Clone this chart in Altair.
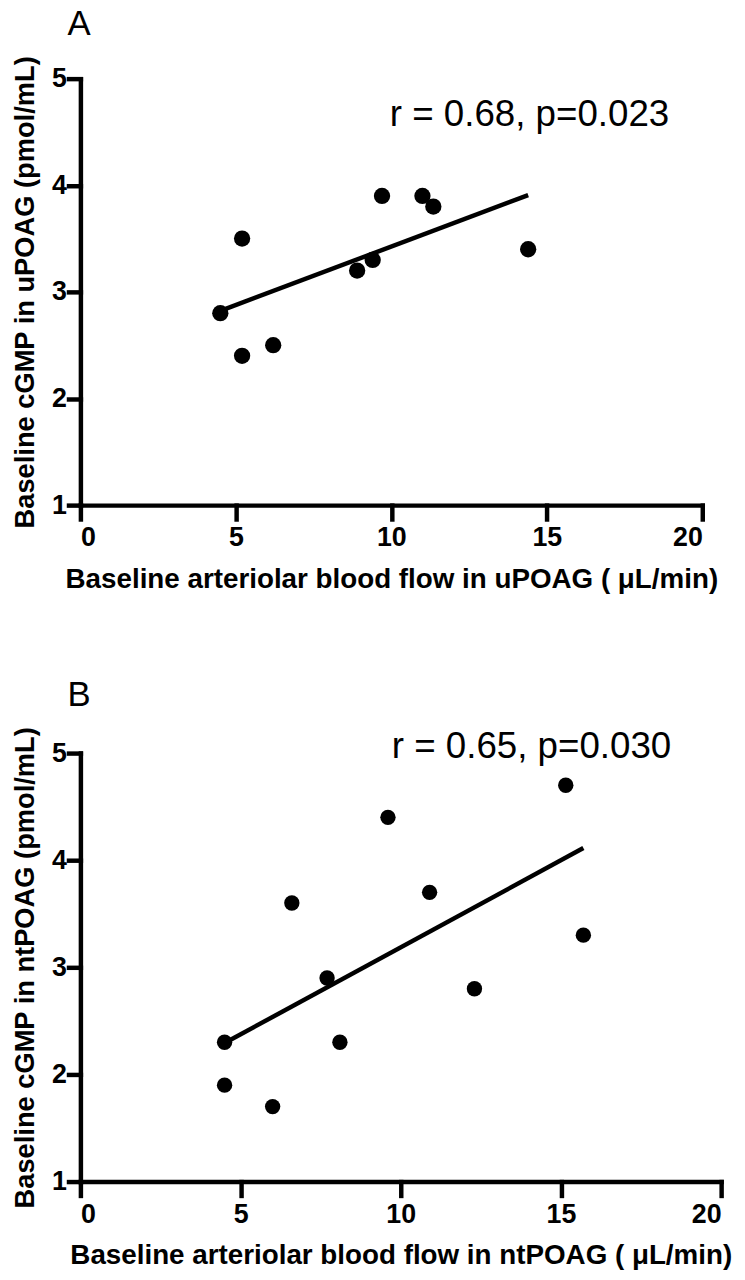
import altair as alt
import pandas as pd

# ---- data ----
a_flow = [4.5, 5.2, 5.2, 6.2, 8.9, 9.4, 9.7, 11.0, 11.35, 14.4]
a_cgmp = [2.8, 3.5, 2.4, 2.5, 3.2, 3.3, 3.9, 3.9, 3.8, 3.4]

b_flow = [4.5, 4.5, 6.0, 6.6, 7.7, 8.1, 9.6, 10.9, 12.3, 15.15, 15.7]
b_cgmp = [2.3, 1.9, 1.7, 3.6, 2.9, 2.3, 4.4, 3.7, 2.8, 4.7, 3.3]

x_ticks = [0, 5, 10, 15, 20]
y_ticks = [1, 2, 3, 4, 5]

panel_letters = ["A", "B"]
stats_text = ["r = 0.68, p=0.023", "r = 0.65, p=0.030"]
x_titles = [
    "Baseline arteriolar blood flow in uPOAG ( \u03bcL/min)",
    "Baseline arteriolar blood flow in ntPOAG ( \u03bcL/min)",
]
y_titles = [
    "Baseline cGMP in uPOAG (pmol/mL)",
    "Baseline cGMP in ntPOAG (pmol/mL)",
]

FONT = "Liberation Sans"


def panel(letter, flow, cgmp, stat, stat_x, stat_y, xt, yt, w, h, size):
    df = pd.DataFrame({"flow": flow, "cgmp": cgmp})
    xs = alt.Scale(domain=[0, 20], nice=False, zero=False)
    ys = alt.Scale(domain=[1, 5], nice=False, zero=False)
    xa = alt.Axis(values=x_ticks, title=xt, tickSize=14, labelPadding=6,
                  titlePadding=15, format="d")
    ya = alt.Axis(values=y_ticks, title=yt, tickSize=12, labelPadding=2,
                  titlePadding=12, format="d", titleFontSize=27.5)
    base = alt.Chart(df)
    pts = base.mark_circle(size=size, color="black", opacity=1).encode(
        x=alt.X("flow:Q", scale=xs, axis=xa),
        y=alt.Y("cgmp:Q", scale=ys, axis=ya),
    )
    line = base.transform_regression("flow", "cgmp").mark_line(
        color="black", strokeWidth=4.5
    ).encode(x=alt.X("flow:Q", scale=xs), y=alt.Y("cgmp:Q", scale=ys))
    tdf = pd.DataFrame({"flow": [stat_x], "cgmp": [stat_y], "t": [stat]})
    txt = alt.Chart(tdf).mark_text(
        align="left", baseline="alphabetic", fontSize=37, font=FONT,
        color="black", clip=False
    ).encode(x=alt.X("flow:Q", scale=xs), y=alt.Y("cgmp:Q", scale=ys), text="t:N")
    return alt.layer(line, pts, txt).properties(
        width=w, height=h,
        title=alt.Title(letter, anchor="start", fontSize=35, fontWeight="normal",
                        font=FONT, color="black", dx=-13, offset=14,
                        baseline="top", frame="group"),
    )


pa = panel(panel_letters[0], a_flow, a_cgmp, stats_text[0], 9.95, 4.56,
           x_titles[0], y_titles[0], 627, 430, 270)
pb = panel(panel_letters[1], b_flow, b_cgmp, stats_text[1], 9.72, 4.95,
           x_titles[1], y_titles[1], 646, 432, 240)

chart = alt.vconcat(pa, pb, spacing=85).properties(
    padding={"left": 3, "top": -7, "right": 5, "bottom": 0}
).configure_axis(
    domainColor="black", domainWidth=4.5, domainCap="square",
    tickColor="black", tickWidth=4.5, tickCap="square",
    labelFont=FONT, labelFontSize=27, labelFontWeight="bold", labelColor="black",
    titleFont=FONT, titleFontSize=28, titleFontWeight="bold", titleColor="black",
    grid=False,
).configure_view(stroke=None)

chart.save("out.html", embed_options={"renderer": "svg", "actions": False})
